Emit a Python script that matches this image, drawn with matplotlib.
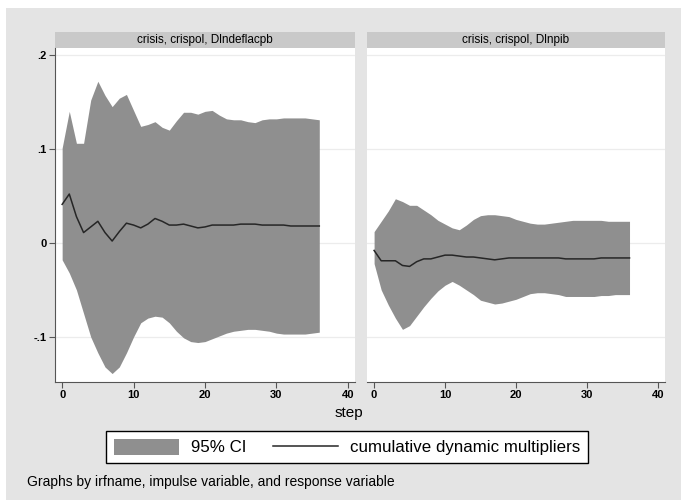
import matplotlib
matplotlib.use("Agg")
import matplotlib.pyplot as plt
from matplotlib.patches import Rectangle, Patch
from matplotlib.lines import Line2D

plt.rcParams['font.family'] = ['Liberation Sans', 'DejaVu Sans']

steps = list(range(37))

# crisis, crispol, Dlndeflacpb
defl_mid = [0.041, 0.052, 0.028, 0.011, 0.017, 0.023, 0.011, 0.002, 0.012, 0.021,
            0.019, 0.016, 0.020, 0.026, 0.023, 0.019, 0.019, 0.020, 0.018, 0.016,
            0.017, 0.019, 0.019, 0.019, 0.019, 0.020, 0.020, 0.020, 0.019, 0.019,
            0.019, 0.019, 0.018, 0.018, 0.018, 0.018, 0.018]
defl_hi = [0.101, 0.140, 0.106, 0.106, 0.152, 0.172, 0.157, 0.145, 0.154, 0.158,
           0.141, 0.124, 0.126, 0.129, 0.123, 0.120, 0.130, 0.139, 0.139, 0.137,
           0.140, 0.141, 0.136, 0.132, 0.131, 0.131, 0.129, 0.128, 0.131, 0.132,
           0.132, 0.133, 0.133, 0.133, 0.133, 0.132, 0.131]
defl_lo = [-0.018, -0.032, -0.050, -0.075, -0.100, -0.117, -0.132, -0.139, -0.132, -0.117,
           -0.100, -0.085, -0.080, -0.078, -0.079, -0.085, -0.094, -0.101, -0.105, -0.106,
           -0.105, -0.102, -0.099, -0.096, -0.094, -0.093, -0.092, -0.092, -0.093, -0.094,
           -0.096, -0.097, -0.097, -0.097, -0.097, -0.096, -0.095]

# crisis, crispol, Dlnpib
pib_mid = [-0.008, -0.019, -0.019, -0.019, -0.024, -0.025, -0.020, -0.017, -0.017, -0.015,
           -0.013, -0.013, -0.014, -0.015, -0.015, -0.016, -0.017, -0.018, -0.017, -0.016,
           -0.016, -0.016, -0.016, -0.016, -0.016, -0.016, -0.016, -0.017, -0.017, -0.017,
           -0.017, -0.017, -0.016, -0.016, -0.016, -0.016, -0.016]
pib_hi = [0.012, 0.023, 0.034, 0.047, 0.044, 0.040, 0.040, 0.035, 0.030, 0.024,
          0.020, 0.016, 0.014, 0.019, 0.025, 0.029, 0.030, 0.030, 0.029, 0.028,
          0.025, 0.023, 0.021, 0.020, 0.020, 0.021, 0.022, 0.023, 0.024, 0.024,
          0.024, 0.024, 0.024, 0.023, 0.023, 0.023, 0.023]
pib_lo = [-0.022, -0.050, -0.066, -0.080, -0.092, -0.088, -0.078, -0.068, -0.059, -0.051,
          -0.045, -0.041, -0.045, -0.050, -0.055, -0.061, -0.063, -0.065, -0.064, -0.062,
          -0.060, -0.057, -0.054, -0.053, -0.053, -0.054, -0.055, -0.057, -0.057, -0.057,
          -0.057, -0.057, -0.056, -0.056, -0.055, -0.055, -0.055]

panel_titles = ["crisis, crispol, Dlndeflacpb", "crisis, crispol, Dlnpib"]
yticks = [-0.1, 0, 0.1, 0.2]
ytick_labels = ["-.1", "0", ".1", ".2"]
xticks = [0, 10, 20, 30, 40]

BG = '#e4e4e4'
STRIP = '#c9c9c9'
BAND = '#8f8f8f'
LINE = '#262626'

fig = plt.figure(figsize=(6.81, 5.00), dpi=100, facecolor='white')
fig.patches.append(Rectangle((6 / 681, 0), 1, (500 - 8) / 500, transform=fig.transFigure,
                             facecolor=BG, edgecolor='none', zorder=-10))

W, H = 681, 500
positions = [(55, 300), (367, 298)]
top, bottom = 48, 382
data = [(defl_lo, defl_hi, defl_mid), (pib_lo, pib_hi, pib_mid)]

for i, ((x0, w), (lo, hi, mid), title) in enumerate(zip(positions, data, panel_titles)):
    ax = fig.add_axes([x0 / W, (H - bottom) / H, w / W, (bottom - top) / H])
    ax.set_facecolor('white')
    ax.fill_between(steps, lo, hi, color=BAND, linewidth=0, zorder=2)
    ax.plot(steps, mid, color=LINE, linewidth=1.1, zorder=3)
    ax.set_xlim(-1, 41)
    ax.set_ylim(-0.148, 0.2074)
    ax.set_yticks(yticks)
    ax.grid(axis='y', color='#ececec', linewidth=0.9, zorder=1)
    ax.set_xticks(xticks)
    ax.set_xticklabels([str(t) for t in xticks], fontsize=8, fontweight='bold')
    for s in ['top', 'right']:
        ax.spines[s].set_visible(False)
    ax.spines['bottom'].set_color('#555555')
    ax.tick_params(axis='x', direction='out', length=4, width=0.8, color='#555555', pad=2)
    if i == 0:
        ax.set_yticklabels(ytick_labels, fontsize=8, fontweight='bold')
        ax.spines['left'].set_color('#555555')
        ax.tick_params(axis='y', direction='out', length=4, width=0.8, color='#555555', pad=2)
    else:
        ax.spines['left'].set_visible(False)
        ax.tick_params(axis='y', length=0, labelleft=False)
    # strip title
    sh = 16 / (bottom - top)
    ax.add_patch(Rectangle((0, 1), 1, sh, transform=ax.transAxes, facecolor=STRIP,
                           edgecolor='none', clip_on=False))
    ax.text(0.5, 1 + sh / 2, title, transform=ax.transAxes, ha='center', va='center',
            fontsize=8.5)

fig.text(349 / W, 1 - 413 / H, "step", ha='center', va='center', fontsize=11)

handles = [Patch(facecolor=BAND, edgecolor='none'),
           Line2D([0], [0], color=LINE, linewidth=1.1)]
leg = fig.legend(handles, ["95% CI", "cumulative dynamic multipliers"], ncol=2,
                 loc='center', bbox_to_anchor=(347 / W, 1 - 447 / H), fontsize=12.2,
                 frameon=True, fancybox=False, edgecolor='black', facecolor='white',
                 framealpha=1, handlelength=3.85, handleheight=1.1, handletextpad=0.7,
                 columnspacing=1.6, borderpad=0.42)
leg.get_frame().set_linewidth(1.0)

fig.text(27 / W, 1 - 482 / H, "Graphs by irfname, impulse variable, and response variable",
         ha='left', va='center', fontsize=10)

fig.savefig("out.png", dpi=100, facecolor=fig.get_facecolor())
